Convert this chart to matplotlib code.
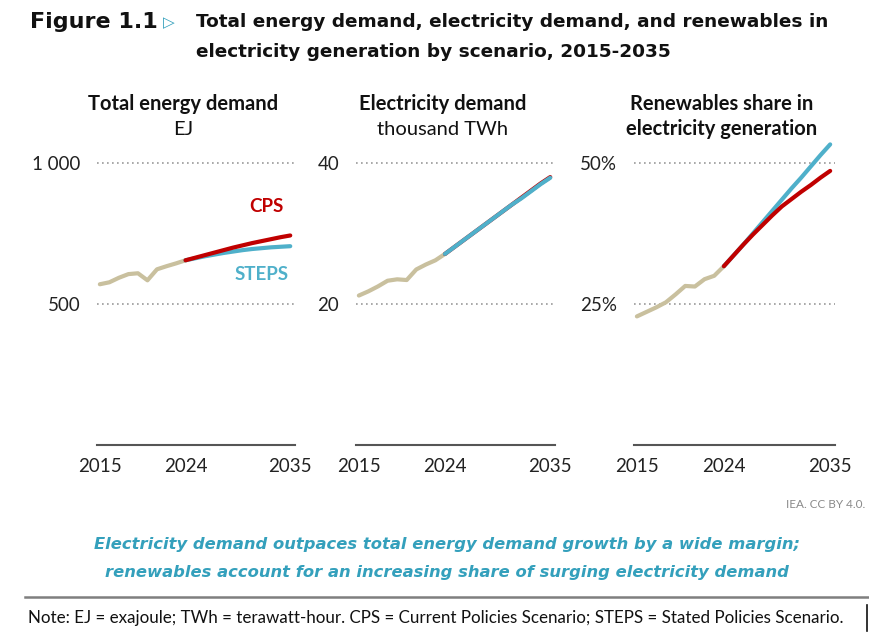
import matplotlib.pyplot as plt
import numpy as np

# ---- data ----
hist_years = list(range(2015, 2025))
proj_years = list(range(2024, 2036))

energy_hist = [570, 577, 593, 606, 609, 584, 623, 634, 644, 655]
energy_cps = [655, 664, 673, 682, 691, 700, 708, 716, 723, 730, 737, 743]
energy_steps = [655, 662, 669, 675, 681, 686, 691, 695, 698, 701, 703, 705]

elec_hist = [21.2, 21.8, 22.5, 23.3, 23.5, 23.4, 24.9, 25.6, 26.2, 27.1]
elec_cps = [27.1, 28.1, 29.1, 30.1, 31.1, 32.1, 33.1, 34.1, 35.1, 36.1, 37.1, 38.0]
elec_steps = [27.1, 28.1, 29.1, 30.1, 31.1, 32.1, 33.1, 34.1, 35.0, 36.0, 37.0, 37.9]

ren_hist = [22.8, 23.6, 24.4, 25.3, 26.7, 28.2, 28.1, 29.4, 30.0, 31.7]
ren_cps = [31.7, 33.6, 35.5, 37.3, 39.0, 40.7, 42.3, 43.6, 44.9, 46.1, 47.4, 48.6]
ren_steps = [31.7, 33.6, 35.5, 37.5, 39.5, 41.5, 43.5, 45.5, 47.4, 49.4, 51.4, 53.3]

xticks = [2015, 2024, 2035]
titles = [("Total energy demand", "EJ", False),
          ("Electricity demand", "thousand TWh", False),
          ("Renewables share in", "electricity generation", True)]
yticks = [[500, 1000], [20, 40], [25, 50]]
ylabels = [["500", "1 000"], ["20", "40"], ["25%", "50%"]]

TAN = "#C9C09E"
RED = "#C00000"
BLUE = "#4FB0CA"
TEAL = "#34A0BC"

W, H = 870, 634
fig = plt.figure(figsize=(W / 100, H / 100), dpi=100)

def fx(px):
  return px / W

def fy(py):
  return 1 - py / H

panel_left = [97, 356, 634]
panel_width = [198, 199, 201]
ax_top, ax_bot = 140, 445
series = [(energy_hist, energy_cps, energy_steps),
          (elec_hist, elec_cps, elec_steps),
          (ren_hist, ren_cps, ren_steps)]
steps_on_top = [False, True, False]
font = "Lato"

axes = []
for i in range(3):
  ax = fig.add_axes([fx(panel_left[i]), fy(ax_bot), fx(panel_width[i]), (ax_bot - ax_top) / H])
  hist, cps, steps = series[i]
  ax.plot(hist_years, hist, color=TAN, lw=3, solid_capstyle="round", zorder=3)
  z_cps, z_steps = (3, 4) if steps_on_top[i] else (4, 3)
  ax.plot(proj_years, steps, color=BLUE, lw=3, solid_capstyle="round", zorder=z_steps)
  ax.plot(proj_years, cps, color=RED, lw=3, solid_capstyle="round", zorder=z_cps)

  top = yticks[i][1] * (ax_bot - ax_top) / (ax_bot - 163)
  ax.set_ylim(0, top)
  ax.set_xlim(2014.7, 2035.5)
  ax.set_yticks(yticks[i])
  ax.set_yticklabels(ylabels[i])
  ax.set_xticks(xticks)
  ax.set_xticklabels([str(t) for t in xticks])
  ax.tick_params(length=0, labelsize=13.5, colors="#222222")
  ax.tick_params(axis="y", pad=12)
  ax.tick_params(axis="x", pad=9)
  for lab in ax.get_xticklabels() + ax.get_yticklabels():
    lab.set_fontfamily(font)
  ax.yaxis.grid(True, color="#9A9A9A", linestyle=(0, (1, 2)), lw=1.2)
  for s in ["top", "right", "left"]:
    ax.spines[s].set_visible(False)
  ax.spines["bottom"].set_color("#555555")
  ax.spines["bottom"].set_linewidth(1.5)
  ax.set_facecolor("none")
  axes.append(ax)

  cx = panel_left[i] + panel_width[i] / 2 - 13
  t1, t2, both_bold = titles[i]
  fig.text(fx(cx), fy(104), t1, ha="center", va="center", fontsize=14.5,
           fontweight="bold", family=font, color="#111111")
  fig.text(fx(cx), fy(129), t2, ha="center", va="center", fontsize=14.5,
           fontweight="bold" if both_bold else "normal", family=font, color="#111111")

axes[0].text(2032.5, 845, "CPS", color=RED, fontsize=13.5, fontweight="bold",
             family=font, ha="center", va="center")
axes[0].text(2032.0, 606, "STEPS", color=BLUE, fontsize=13.5, fontweight="bold",
             family=font, ha="center", va="center")

# header
fig.text(fx(30), fy(22), "Figure 1.1", fontsize=16, fontweight="bold",
         family="DejaVu Sans", va="center", ha="left", color="#111111")
fig.text(fx(163), fy(23), "\u25B7", fontsize=11, fontweight="bold",
         family="DejaVu Sans", va="center", ha="left", color=TEAL)
fig.text(fx(196), fy(22), "Total energy demand, electricity demand, and renewables in",
         fontsize=13.3, fontweight="bold", family="DejaVu Sans", va="center", ha="left",
         color="#111111")
fig.text(fx(196), fy(52), "electricity generation by scenario, 2015-2035",
         fontsize=13.3, fontweight="bold", family="DejaVu Sans", va="center", ha="left",
         color="#111111")

# footer
fig.text(fx(865), fy(505), "IEA. CC BY 4.0.", fontsize=8.5, color="#8A8A8A",
         family=font, ha="right", va="center")
fig.text(fx(447), fy(545), "Electricity demand outpaces total energy demand growth by a wide margin;",
         fontsize=11.8, fontstyle="italic", fontweight="bold", color=TEAL,
         family="DejaVu Sans", ha="center", va="center")
fig.text(fx(447), fy(572), "renewables account for an increasing share of surging electricity demand",
         fontsize=11.8, fontstyle="italic", fontweight="bold", color=TEAL,
         family="DejaVu Sans", ha="center", va="center")
fig.add_artist(plt.Line2D([fx(25), fx(868)], [fy(597), fy(597)], color="#7F7F7F", lw=1.8))
fig.text(fx(28), fy(618), "Note: EJ = exajoule; TWh = terawatt-hour. CPS = Current Policies Scenario; "
         "STEPS = Stated Policies Scenario.", fontsize=12.25, family=font,
         ha="left", va="center", color="#111111")
fig.add_artist(plt.Line2D([fx(867), fx(867)], [fy(605), fy(631)], color="#111111", lw=1.2))

plt.savefig("out.png", dpi=100)
